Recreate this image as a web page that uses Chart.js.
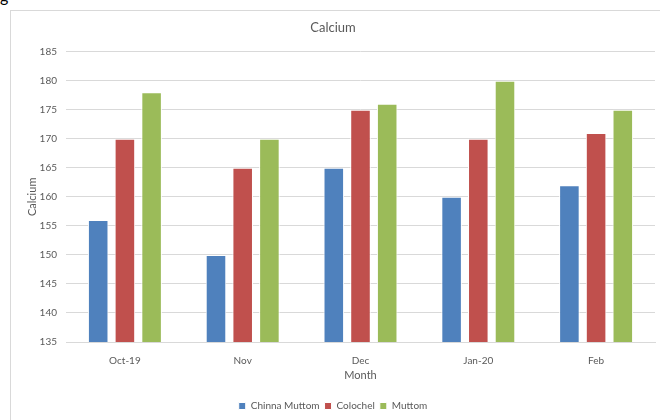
<!DOCTYPE html>
<html>
<head>
<meta charset="utf-8">
<script src="https://cdn.jsdelivr.net/npm/chart.js@4"></script>
<style>
  html, body { margin: 0; padding: 0; background: #fff; overflow: hidden; width: 660px; height: 420px; }
  #frame { position: absolute; left: 10px; top: 10px; width: 660px; height: 420px; border: 1px solid #d9d9d9; }
  #frag { position: absolute; left: 0px; top: -14px; font: 16px Lato, sans-serif; color: #000; }
  canvas { position: absolute; left: 0; top: 0; }
</style>
</head>
<body>
<div id="frag">g</div>
<div id="frame"><canvas id="chart" width="650" height="410"></canvas></div>
<script>
const months = ['Oct-19', 'Nov', 'Dec', 'Jan-20', 'Feb'];
const chinnaMuttom = [156, 150, 165, 160, 162];
const colochel = [170, 165, 175, 170, 171];
const muttom = [178, 170, 176, 180, 175];
const yTicks = { min: 135, max: 185, step: 5 };

const textColor = '#595959';
const gridColor = '#d9d9d9';

new Chart(document.getElementById('chart'), {
    type: 'bar',
    data: {
        labels: months,
        datasets: [
            { label: 'Chinna Muttom', data: chinnaMuttom, backgroundColor: '#4f81bd', borderColor: '#ffffff', borderWidth: 1 },
            { label: 'Colochel', data: colochel, backgroundColor: '#c0504d', borderColor: '#ffffff', borderWidth: 1 },
            { label: 'Muttom', data: muttom, backgroundColor: '#9bbb59', borderColor: '#ffffff', borderWidth: 1 }
        ]
    },
    options: {
        responsive: false,
        animation: false,
        categoryPercentage: 0.68,
        barPercentage: 0.77,
        layout: { padding: { left: 0, right: 6, top: 0, bottom: 0 } },
        plugins: {
            title: {
                display: true,
                text: 'Calcium',
                color: textColor,
                font: { family: 'Lato', size: 13, weight: 'normal' },
                padding: { top: 9, bottom: 16 }
            },
            legend: {
                position: 'bottom',
                labels: {
                    color: textColor,
                    font: { family: 'Lato', size: 10 },
                    boxWidth: 7,
                    boxHeight: 7,
                    padding: 5
                }
            },
            tooltip: { enabled: false }
        },
        scales: {
            x: {
                grid: { display: false },
                border: { color: gridColor },
                ticks: { color: textColor, font: { family: 'Lato', size: 10 }, padding: 5 },
                title: {
                    display: true,
                    text: 'Month',
                    color: textColor,
                    font: { family: 'Lato', size: 11 },
                    padding: { top: 0, bottom: 14 }
                },
                afterFit: function(scale) { scale.height = 54; }
            },
            y: {
                min: yTicks.min,
                max: yTicks.max,
                ticks: { stepSize: yTicks.step, color: textColor, font: { family: 'Lato', size: 10 }, padding: 9 },
                grid: { color: gridColor, drawTicks: false },
                border: { display: false },
                title: {
                    display: true,
                    text: 'Calcium',
                    color: textColor,
                    font: { family: 'Lato', size: 11 },
                    padding: { top: 15, bottom: 0 }
                },
                afterFit: function(scale) { scale.width = 55; }
            }
        }
    }
});
</script>
</body>
</html>
